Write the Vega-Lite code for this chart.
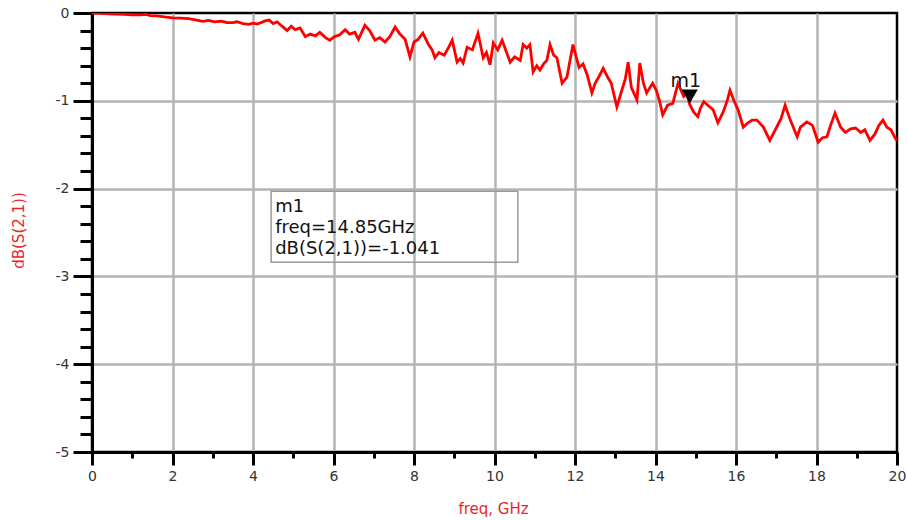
{
  "$schema": "https://vega.github.io/schema/vega-lite/v6.json",
  "width": 805,
  "height": 439,
  "autosize": "none",
  "padding": {"left": 92, "top": 13, "right": 10, "bottom": 68},
  "background": "white",
  "config": {
    "view": {"stroke": "black", "strokeWidth": 2.5},
    "axis": {
      "labelFont": "DejaVu Sans",
      "labelFontSize": 14,
      "labelColor": "#333333",
      "titleFont": "DejaVu Sans",
      "titleFontSize": 15,
      "titleFontWeight": "normal",
      "titleColor": "#e8262a",
      "domainColor": "black",
      "domainWidth": 3,
      "tickColor": "black",
      "tickWidth": 3,
      "gridColor": "#b4b4b4",
      "gridWidth": 2.5
    }
  },
  "datasets": {
    "trace": [
      {"freq": 0, "db": 0}, {"freq": 0.2, "db": -0.005}, {"freq": 0.4, "db": -0.01}, {"freq": 0.6, "db": -0.012},
      {"freq": 0.8, "db": -0.016}, {"freq": 1.0, "db": -0.02}, {"freq": 1.2, "db": -0.022}, {"freq": 1.35, "db": -0.015},
      {"freq": 1.45, "db": -0.03}, {"freq": 1.6, "db": -0.032}, {"freq": 1.8, "db": -0.045}, {"freq": 2.0, "db": -0.055},
      {"freq": 2.2, "db": -0.058}, {"freq": 2.4, "db": -0.065}, {"freq": 2.6, "db": -0.08}, {"freq": 2.75, "db": -0.095},
      {"freq": 2.9, "db": -0.085}, {"freq": 3.05, "db": -0.1}, {"freq": 3.2, "db": -0.093}, {"freq": 3.35, "db": -0.108},
      {"freq": 3.5, "db": -0.11}, {"freq": 3.6, "db": -0.1}, {"freq": 3.75, "db": -0.12}, {"freq": 3.9, "db": -0.13},
      {"freq": 4.0, "db": -0.115}, {"freq": 4.1, "db": -0.125}, {"freq": 4.2, "db": -0.11}, {"freq": 4.3, "db": -0.09},
      {"freq": 4.4, "db": -0.08}, {"freq": 4.5, "db": -0.12}, {"freq": 4.6, "db": -0.1}, {"freq": 4.72, "db": -0.15},
      {"freq": 4.85, "db": -0.2}, {"freq": 4.95, "db": -0.15}, {"freq": 5.05, "db": -0.19}, {"freq": 5.17, "db": -0.17},
      {"freq": 5.3, "db": -0.27}, {"freq": 5.42, "db": -0.24}, {"freq": 5.55, "db": -0.26}, {"freq": 5.66, "db": -0.22},
      {"freq": 5.8, "db": -0.28}, {"freq": 5.91, "db": -0.31}, {"freq": 6.02, "db": -0.27}, {"freq": 6.15, "db": -0.25},
      {"freq": 6.29, "db": -0.19}, {"freq": 6.4, "db": -0.24}, {"freq": 6.53, "db": -0.22}, {"freq": 6.62, "db": -0.3},
      {"freq": 6.7, "db": -0.22}, {"freq": 6.78, "db": -0.14}, {"freq": 6.9, "db": -0.2}, {"freq": 7.03, "db": -0.31},
      {"freq": 7.15, "db": -0.28}, {"freq": 7.28, "db": -0.33}, {"freq": 7.4, "db": -0.27}, {"freq": 7.53, "db": -0.16},
      {"freq": 7.65, "db": -0.24}, {"freq": 7.78, "db": -0.3}, {"freq": 7.9, "db": -0.5}, {"freq": 8.0, "db": -0.33},
      {"freq": 8.1, "db": -0.3}, {"freq": 8.22, "db": -0.23}, {"freq": 8.35, "db": -0.35}, {"freq": 8.45, "db": -0.42},
      {"freq": 8.52, "db": -0.51}, {"freq": 8.62, "db": -0.45}, {"freq": 8.75, "db": -0.48}, {"freq": 8.85, "db": -0.4},
      {"freq": 8.95, "db": -0.31}, {"freq": 9.07, "db": -0.56}, {"freq": 9.15, "db": -0.52}, {"freq": 9.22, "db": -0.57},
      {"freq": 9.32, "db": -0.39}, {"freq": 9.45, "db": -0.42}, {"freq": 9.59, "db": -0.23}, {"freq": 9.72, "db": -0.51},
      {"freq": 9.8, "db": -0.45}, {"freq": 9.89, "db": -0.59}, {"freq": 9.97, "db": -0.34}, {"freq": 10.08, "db": -0.42},
      {"freq": 10.19, "db": -0.31}, {"freq": 10.3, "db": -0.45}, {"freq": 10.39, "db": -0.56}, {"freq": 10.5, "db": -0.5},
      {"freq": 10.64, "db": -0.54}, {"freq": 10.71, "db": -0.36}, {"freq": 10.8, "db": -0.4}, {"freq": 10.88, "db": -0.36},
      {"freq": 10.96, "db": -0.67}, {"freq": 11.05, "db": -0.6}, {"freq": 11.13, "db": -0.65}, {"freq": 11.22, "db": -0.58},
      {"freq": 11.3, "db": -0.54}, {"freq": 11.38, "db": -0.36}, {"freq": 11.47, "db": -0.48}, {"freq": 11.55, "db": -0.51},
      {"freq": 11.68, "db": -0.8}, {"freq": 11.8, "db": -0.73}, {"freq": 11.95, "db": -0.36}, {"freq": 12.03, "db": -0.5},
      {"freq": 12.1, "db": -0.62}, {"freq": 12.2, "db": -0.58}, {"freq": 12.3, "db": -0.7}, {"freq": 12.42, "db": -0.91},
      {"freq": 12.5, "db": -0.8}, {"freq": 12.6, "db": -0.72}, {"freq": 12.7, "db": -0.63}, {"freq": 12.8, "db": -0.72},
      {"freq": 12.9, "db": -0.8}, {"freq": 13.04, "db": -1.07}, {"freq": 13.15, "db": -0.9}, {"freq": 13.25, "db": -0.75},
      {"freq": 13.32, "db": -0.56}, {"freq": 13.4, "db": -0.85}, {"freq": 13.54, "db": -0.99}, {"freq": 13.61, "db": -0.57},
      {"freq": 13.7, "db": -0.8}, {"freq": 13.78, "db": -0.91}, {"freq": 13.86, "db": -0.85}, {"freq": 13.93, "db": -0.8},
      {"freq": 14.02, "db": -0.88}, {"freq": 14.1, "db": -1.0}, {"freq": 14.18, "db": -1.16}, {"freq": 14.3, "db": -1.05},
      {"freq": 14.43, "db": -1.03}, {"freq": 14.56, "db": -0.8}, {"freq": 14.7, "db": -0.95}, {"freq": 14.78, "db": -0.92},
      {"freq": 14.85, "db": -1.041}, {"freq": 14.95, "db": -1.13}, {"freq": 15.05, "db": -1.18}, {"freq": 15.12, "db": -1.08},
      {"freq": 15.2, "db": -1.01}, {"freq": 15.3, "db": -1.05}, {"freq": 15.43, "db": -1.1}, {"freq": 15.55, "db": -1.25},
      {"freq": 15.68, "db": -1.13}, {"freq": 15.78, "db": -1.0}, {"freq": 15.85, "db": -0.88}, {"freq": 15.95, "db": -1.0},
      {"freq": 16.05, "db": -1.1}, {"freq": 16.18, "db": -1.3}, {"freq": 16.3, "db": -1.25}, {"freq": 16.4, "db": -1.22},
      {"freq": 16.52, "db": -1.22}, {"freq": 16.68, "db": -1.3}, {"freq": 16.84, "db": -1.45}, {"freq": 17.0, "db": -1.31},
      {"freq": 17.12, "db": -1.2}, {"freq": 17.22, "db": -1.05}, {"freq": 17.35, "db": -1.22}, {"freq": 17.52, "db": -1.41},
      {"freq": 17.6, "db": -1.3}, {"freq": 17.76, "db": -1.24}, {"freq": 17.9, "db": -1.28}, {"freq": 18.04, "db": -1.47},
      {"freq": 18.15, "db": -1.42}, {"freq": 18.26, "db": -1.41}, {"freq": 18.35, "db": -1.28}, {"freq": 18.46, "db": -1.14},
      {"freq": 18.6, "db": -1.3}, {"freq": 18.72, "db": -1.36}, {"freq": 18.85, "db": -1.32}, {"freq": 18.97, "db": -1.31},
      {"freq": 19.1, "db": -1.36}, {"freq": 19.2, "db": -1.33}, {"freq": 19.33, "db": -1.45}, {"freq": 19.45, "db": -1.38},
      {"freq": 19.55, "db": -1.28}, {"freq": 19.65, "db": -1.22}, {"freq": 19.75, "db": -1.3}, {"freq": 19.85, "db": -1.33},
      {"freq": 19.95, "db": -1.42}, {"freq": 20.0, "db": -1.45}
    ],
    "marker": [{"freq": 14.85, "db": -1.041, "name": "m1"}],
    "box": [{"x1": 4.45, "x2": 10.58, "y1": -2.03, "y2": -2.84}],
    "lines": [
      {"freq": 4.55, "db": -2.262, "text": "m1"},
      {"freq": 4.55, "db": -2.502, "text": "freq=14.85GHz"},
      {"freq": 4.55, "db": -2.742, "text": "dB(S(2,1))=-1.041"}
    ]
  },
  "layer": [
    {
      "data": {"name": "trace"},
      "mark": {"type": "line", "color": "#ff0000", "strokeWidth": 2.8, "clip": true},
      "encoding": {
        "x": {
          "field": "freq", "type": "quantitative",
          "scale": {"domain": [0, 20], "nice": false, "zero": false},
          "axis": {
            "title": "freq, GHz",
            "values": [0,1,2,3,4,5,6,7,8,9,10,11,12,13,14,15,16,17,18,19,20],
            "tickCount": 40,
            "labelExpr": "datum.value % 2 === 0 ? format(datum.value, 'd') : ''",
            "labelFlush": false,
            "labelOverlap": false,
            "labelPadding": 4,
            "tickSize": {"condition": {"test": "datum.value % 2 === 0", "value": 13}, "value": 6},
            "gridOpacity": {"condition": {"test": "datum.value % 2 === 0 && datum.value > 0 && datum.value < 20", "value": 1}, "value": 0},
            "titleX": 401,
            "titleY": 56,
            "titleBaseline": "middle",
            "titleAnchor": "middle"
          }
        },
        "y": {
          "field": "db", "type": "quantitative",
          "scale": {"domain": [-5, 0], "nice": false, "zero": false},
          "axis": {
            "title": "dB(S(2,1))",
            "values": [0,-0.2,-0.4,-0.6,-0.8,-1,-1.2,-1.4,-1.6,-1.8,-2,-2.2,-2.4,-2.6,-2.8,-3,-3.2,-3.4,-3.6,-3.8,-4,-4.2,-4.4,-4.6,-4.8,-5],
            "tickCount": 60,
            "labelExpr": "abs(datum.value - round(datum.value)) < 0.001 ? (round(datum.value) === 0 ? '0' : '-' + format(abs(round(datum.value)), 'd')) : ''",
            "labelFlush": false,
            "labelOverlap": false,
            "labelPadding": 4,
            "tickSize": {"condition": {"test": "abs(datum.value - round(datum.value)) < 0.001", "value": 19}, "value": 12},
            "gridOpacity": {"condition": {"test": "abs(datum.value - round(datum.value)) < 0.001 && datum.value < 0 && datum.value > -5", "value": 1}, "value": 0},
            "titleX": -74,
            "titleY": 217,
            "titleBaseline": "middle",
            "titleAnchor": "middle",
            "titleAngle": -90
          }
        }
      }
    },
    {
      "data": {"name": "box"},
      "mark": {"type": "rect", "fill": null, "fillOpacity": 0, "stroke": "#9a9a9a", "strokeWidth": 1.5},
      "encoding": {
        "x": {"field": "x1", "type": "quantitative"},
        "x2": {"field": "x2"},
        "y": {"field": "y1", "type": "quantitative"},
        "y2": {"field": "y2"}
      }
    },
    {
      "data": {"name": "lines"},
      "mark": {"type": "text", "font": "DejaVu Sans", "fontSize": 18, "align": "left", "baseline": "alphabetic", "color": "#111111"},
      "encoding": {
        "x": {"field": "freq", "type": "quantitative"},
        "y": {"field": "db", "type": "quantitative"},
        "text": {"field": "text"}
      }
    },
    {
      "data": {"name": "marker"},
      "mark": {"type": "point", "shape": "triangle-down", "filled": true, "color": "black", "size": 260, "opacity": 1, "yOffset": -8},
      "encoding": {
        "x": {"field": "freq", "type": "quantitative"},
        "y": {"field": "db", "type": "quantitative"}
      }
    },
    {
      "data": {"name": "marker"},
      "mark": {"type": "text", "font": "DejaVu Sans", "fontSize": 19, "align": "center", "baseline": "alphabetic", "color": "#111111", "dx": -4, "dy": -17},
      "encoding": {
        "x": {"field": "freq", "type": "quantitative"},
        "y": {"field": "db", "type": "quantitative"},
        "text": {"field": "name"}
      }
    }
  ]
}
